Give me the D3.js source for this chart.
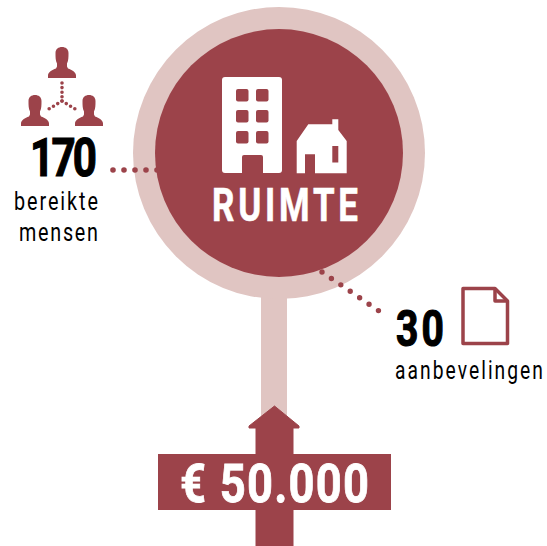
<!DOCTYPE html>
<html>
<head>
<meta charset="utf-8">
<script src="https://cdn.jsdelivr.net/npm/d3@7"></script>
<style>
  html, body { margin: 0; padding: 0; background: #fff; }
  svg { display: block; }
  text { font-family: "Roboto", "DejaVu Sans Condensed", sans-serif; }
</style>
</head>
<body>
<script>
const largura = 547
const altura = 546
const rood = '#9c434a'
const roze = '#e0c5c2'

const titel = ['RUIMTE']
const aantallen = ['170', '30']
const labelsMensen = ['bereikte', 'mensen']
const labelsAanbevelingen = ['aanbevelingen']
const budget = ['€ 50.000']

const svg = d3.select('body').append('svg').attr('width', largura).attr('height', altura)
const lijn = d3.line()

function vorm(punten, kleur) {
  return svg.append('path').attr('d', lijn(punten) + 'Z').attr('fill', kleur).attr('stroke', 'none')
}

// smal = horizontale krimp van de letters, de rest van de breedte gaat naar de spatiering
function tekst(t, x, y, breedte, grootte, kleur, gewicht, smal, rand) {
  return svg.append('text')
    .attr('transform', 'translate(' + x + ',' + y + ') scale(' + smal + ',1)')
    .attr('textLength', breedte / smal).attr('lengthAdjust', 'spacing')
    .attr('font-size', grootte).attr('font-weight', gewicht)
    .attr('fill', kleur).attr('stroke', kleur).attr('stroke-width', rand)
    .text(t)
}

function stippen(punten, dikte, afstand) {
  svg.append('path').attr('d', lijn(punten))
    .attr('fill', 'none').attr('stroke', rood)
    .attr('stroke-width', dikte).attr('stroke-linecap', 'round')
    .attr('stroke-dasharray', '0 ' + afstand)
}

// steel en cirkel
svg.append('rect').attr('x', 261).attr('y', 280).attr('width', 26).attr('height', 150).attr('fill', roze)
svg.append('circle').attr('cx', 279).attr('cy', 153).attr('r', 146).attr('fill', roze)
svg.append('circle').attr('cx', 279).attr('cy', 153).attr('r', 124).attr('fill', rood)

// pijl
const pijl = vorm([[274.5, 406], [299, 426], [299, 428], [293, 428], [293, 546], [256, 546], [256, 428], [249, 428], [249, 426]], rood)
pijl.attr('stroke', rood).attr('stroke-width', 1).attr('stroke-linejoin', 'round')
svg.append('rect').attr('x', 158).attr('y', 454).attr('width', 233).attr('height', 56).attr('fill', rood)
tekst(budget[0], 180, 502, 189, 54, '#fff', 'bold', 0.84, 0.8)

// stippellijnen
stippen([[113, 170], [158, 170]], 5.6, 11)
stippen([[322, 272], [379, 311]], 5.4, 11.4)

// flatgebouw
svg.append('rect').attr('x', 222).attr('y', 77).attr('width', 60).attr('height', 96).attr('rx', 3).attr('fill', '#fff')
;[236, 256].forEach(function (x) {
  [89, 110, 131].forEach(function (y) {
    svg.append('rect').attr('x', x).attr('y', y).attr('width', 12.5).attr('height', 12.5).attr('rx', 2).attr('fill', rood)
  })
})
svg.append('path').attr('d', 'M242,173V157a2,2 0 0 1 2,-2H261a2,2 0 0 1 2,2V173Z').attr('fill', rood)

// huisje
vorm([[296.7, 141], [308.3, 124.3], [332.3, 124.3], [332.3, 119.3], [338.3, 119.3], [338.3, 130], [346.7, 141],
  [346.7, 173.3], [315, 173.3], [315, 154.3], [305, 154.3], [305, 173.3], [296.7, 173.3]], '#fff')
svg.append('rect').attr('x', 332.3).attr('y', 146).attr('width', 6).attr('height', 16.5).attr('fill', rood)

tekst(titel[0], 212, 221, 146, 46, '#fff', 'bold', 0.76, 0.6)

// mensen
function persoon(cx, onder) {
  const g = svg.append('g').attr('transform', 'translate(' + cx + ',' + onder + ')').attr('fill', rood)
  g.append('path').attr('d', 'M-14,0V-2.5C-14,-6 -10,-8 -6,-9.5L-5,-11.5V-14.5C-6.5,-17 -6.5,-21 -6.5,-25C-6.5,-29 -3.5,-31 0,-31C3.5,-31 6.5,-29 6.5,-25C6.5,-21 6.5,-17 5,-14.5V-11.5L6,-9.5C10,-8 14,-6 14,-2.5V0Z')
}
persoon(62, 78)
persoon(35, 126)
persoon(89, 126)
stippen([[62, 83], [62, 101]], 3.6, 4.6)
stippen([[62, 101], [48, 109.5]], 3.6, 5)
stippen([[62, 101], [76, 109.5]], 3.6, 5)

tekst(aantallen[0], 30, 176, 67, 54, '#000', 'bold', 0.78, 1.2)
tekst(labelsMensen[0], 14, 210, 84, 26, '#000', 'normal', 0.76, 0)
tekst(labelsMensen[1], 19, 241, 79, 26, '#000', 'normal', 0.76, 0)

// document
svg.append('path').attr('d', 'M463,288.5H495L507.5,301V343.5H463Z')
  .attr('fill', 'none').attr('stroke', rood).attr('stroke-width', 3.5).attr('stroke-linejoin', 'round')
svg.append('path').attr('d', 'M495,288.5V301H507.5').attr('fill', 'none').attr('stroke', rood).attr('stroke-width', 3.5).attr('stroke-linejoin', 'round')

tekst(aantallen[1], 396, 346, 48, 50, '#000', 'bold', 0.78, 1.2)
tekst(labelsAanbevelingen[0], 395, 379, 148, 26, '#000', 'normal', 0.74, 0)
</script>
</body>
</html>
